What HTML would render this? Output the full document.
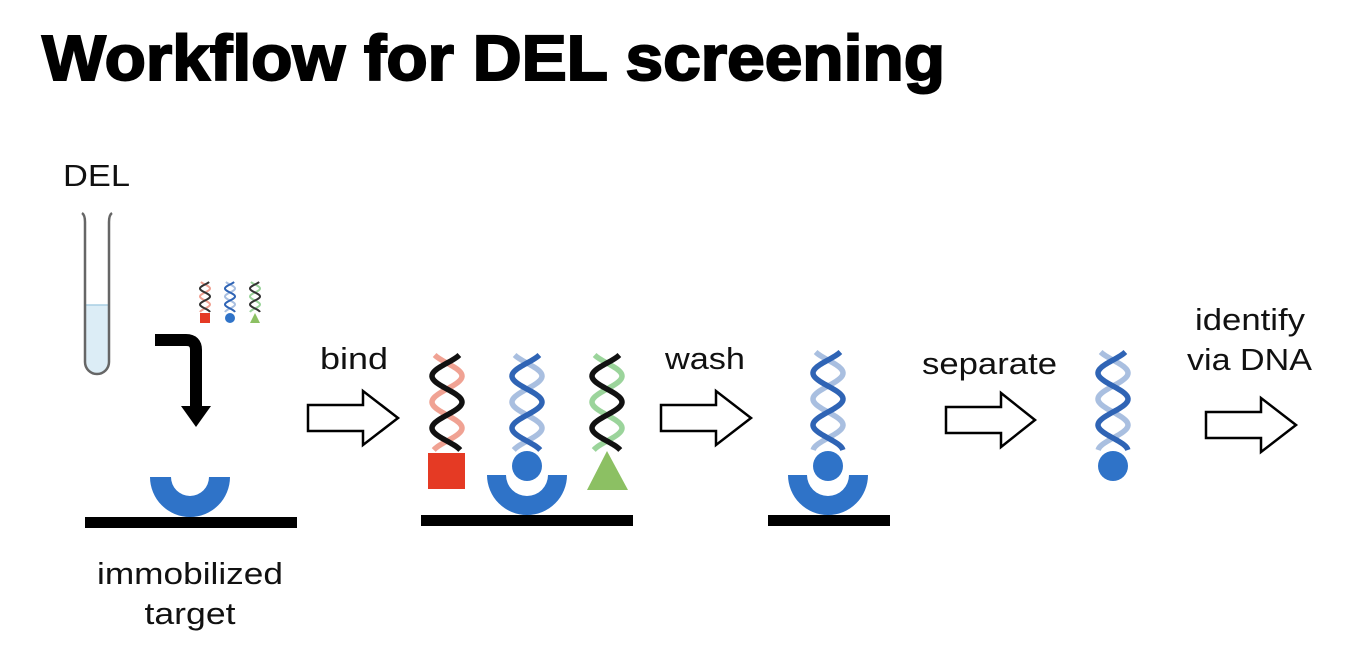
<!DOCTYPE html>
<html><head><meta charset="utf-8"><style>
html,body{margin:0;padding:0;background:#fff;}
svg{display:block}
text{font-family:"Liberation Sans",Arial,sans-serif;fill:#111}
</style></head><body>
<svg id="s" width="1354" height="668" viewBox="0 0 1354 668" xmlns="http://www.w3.org/2000/svg">
<rect width="1354" height="668" fill="#fff"/>
<text x="42" y="80" font-size="64" font-weight="bold" textLength="903" lengthAdjust="spacingAndGlyphs" style="fill:#000;stroke:#000;stroke-width:2">Workflow for DEL screening</text>
<text x="63" y="186" font-size="31" textLength="67" lengthAdjust="spacingAndGlyphs">DEL</text>
<!-- tube -->
<path d="M85,305 L85,362 A12,12 0 0 0 109,362 L109,305 Z" fill="#dcedf6"/>
<line x1="85" y1="305" x2="109" y2="305" stroke="#a9cfe3" stroke-width="1.5"/>
<path d="M82,213 Q85,215 85,222 L85,362 A12,12 0 0 0 109,362 L109,222 Q109,215 112,213" fill="none" stroke="#666" stroke-width="2.5"/>
<!-- bent arrow -->
<path d="M155,340 L186,340 Q196,340 196,350 L196,408" fill="none" stroke="#000" stroke-width="12"/>
<polygon points="181,406 211,406 196,427" fill="#000"/>
<g id="helices"></g>
<!-- small shapes -->
<rect x="200" y="313" width="10" height="10" fill="#e53a24"/>
<circle cx="230" cy="318" r="5" fill="#2f73c8"/>
<polygon points="250,323 260,323 255,313" fill="#8cc063"/>
<!-- cup 1 -->
<path d="M150,477 A40,40 0 0 0 230,477 L209,477 A19,19 0 0 1 171,477 Z" fill="#2f73c8"/>
<rect x="85" y="517" width="212" height="11" fill="#000"/>
<text x="190" y="584" font-size="31" text-anchor="middle" textLength="186" lengthAdjust="spacingAndGlyphs">immobilized</text>
<text x="190" y="624" font-size="31" text-anchor="middle" textLength="91" lengthAdjust="spacingAndGlyphs">target</text>
<!-- arrows -->
<g fill="#fff" stroke="#000" stroke-width="2.5">
<path d="M308,405 L363,405 L363,391 L398,418 L363,445 L363,431 L308,431 Z"/>
<path d="M661,405 L716,405 L716,391 L751,418 L716,445 L716,431 L661,431 Z"/>
<path d="M946,407 L1001,407 L1001,393 L1035,420 L1001,447 L1001,433 L946,433 Z"/>
<path d="M1206,412 L1261,412 L1261,398 L1296,425 L1261,452 L1261,438 L1206,438 Z"/>
</g>
<text x="320" y="369" font-size="31" textLength="68" lengthAdjust="spacingAndGlyphs">bind</text>
<text x="665" y="369" font-size="31" textLength="80" lengthAdjust="spacingAndGlyphs">wash</text>
<text x="922" y="374" font-size="31" textLength="135" lengthAdjust="spacingAndGlyphs">separate</text>
<text x="1195" y="330" font-size="31" textLength="110" lengthAdjust="spacingAndGlyphs">identify</text>
<text x="1187" y="370" font-size="31" textLength="125" lengthAdjust="spacingAndGlyphs">via DNA</text>
<!-- panel 2 -->
<rect x="428" y="453" width="37" height="36" fill="#e53a24"/>
<polygon points="587,490 628,490 607,451" fill="#8cc063"/>
<path d="M487,475 A40,40 0 0 0 567,475 L548,475 A21,21 0 0 1 506,475 Z" fill="#2f73c8"/>
<circle cx="527" cy="466" r="15" fill="#2f73c8"/>
<rect x="421" y="515" width="212" height="11" fill="#000"/>
<!-- panel 3 -->
<path d="M788,475 A40,40 0 0 0 868,475 L849,475 A21,21 0 0 1 807,475 Z" fill="#2f73c8"/>
<circle cx="828" cy="466" r="15" fill="#2f73c8"/>
<rect x="768" y="515" width="122" height="11" fill="#000"/>
<!-- panel 4 -->
<circle cx="1113" cy="466" r="15" fill="#2f73c8"/>
</svg>
<script>
(function(){
var g=document.getElementById('helices');
function helix(cx,y0,len,A,hp,phi,front,back,sw){
  var a='',b='';
  for(var i=0;i<=80;i++){var y=y0+len*i/80;var c=Math.cos(Math.PI*(y-y0)/hp+phi);
    a+=(i?'L':'M')+(cx+A*c).toFixed(2)+','+y.toFixed(2);
    b+=(i?'L':'M')+(cx-A*c).toFixed(2)+','+y.toFixed(2);}
  var ns='http://www.w3.org/2000/svg';
  var p1=document.createElementNS(ns,'path');p1.setAttribute('d',b);p1.setAttribute('stroke',back);
  var p2=document.createElementNS(ns,'path');p2.setAttribute('d',a);p2.setAttribute('stroke',front);
  [p1,p2].forEach(function(p){p.setAttribute('fill','none');p.setAttribute('stroke-width',sw);g.appendChild(p);});
}
var ph=0.6;
helix(447,355,95,15,26,ph,'#111','#f0a293',5.5);
helix(527,355,95,15,26,ph,'#2f64b5','#a9bfe0',5.5);
helix(607,355,95,15,26,ph,'#111','#9bd49b',5.5);
helix(828,352,98,15,26,ph,'#2f64b5','#a9bfe0',5.5);
helix(1113,352,98,15,26,ph,'#2f64b5','#a9bfe0',5.5);
helix(205,282,30,5,8,ph,'#333','#f0a293',2);
helix(230,282,30,5,8,ph,'#2f64b5','#a9bfe0',2);
helix(255,282,30,5,8,ph,'#333','#9bd49b',2);
})();
</script>
</body></html>
